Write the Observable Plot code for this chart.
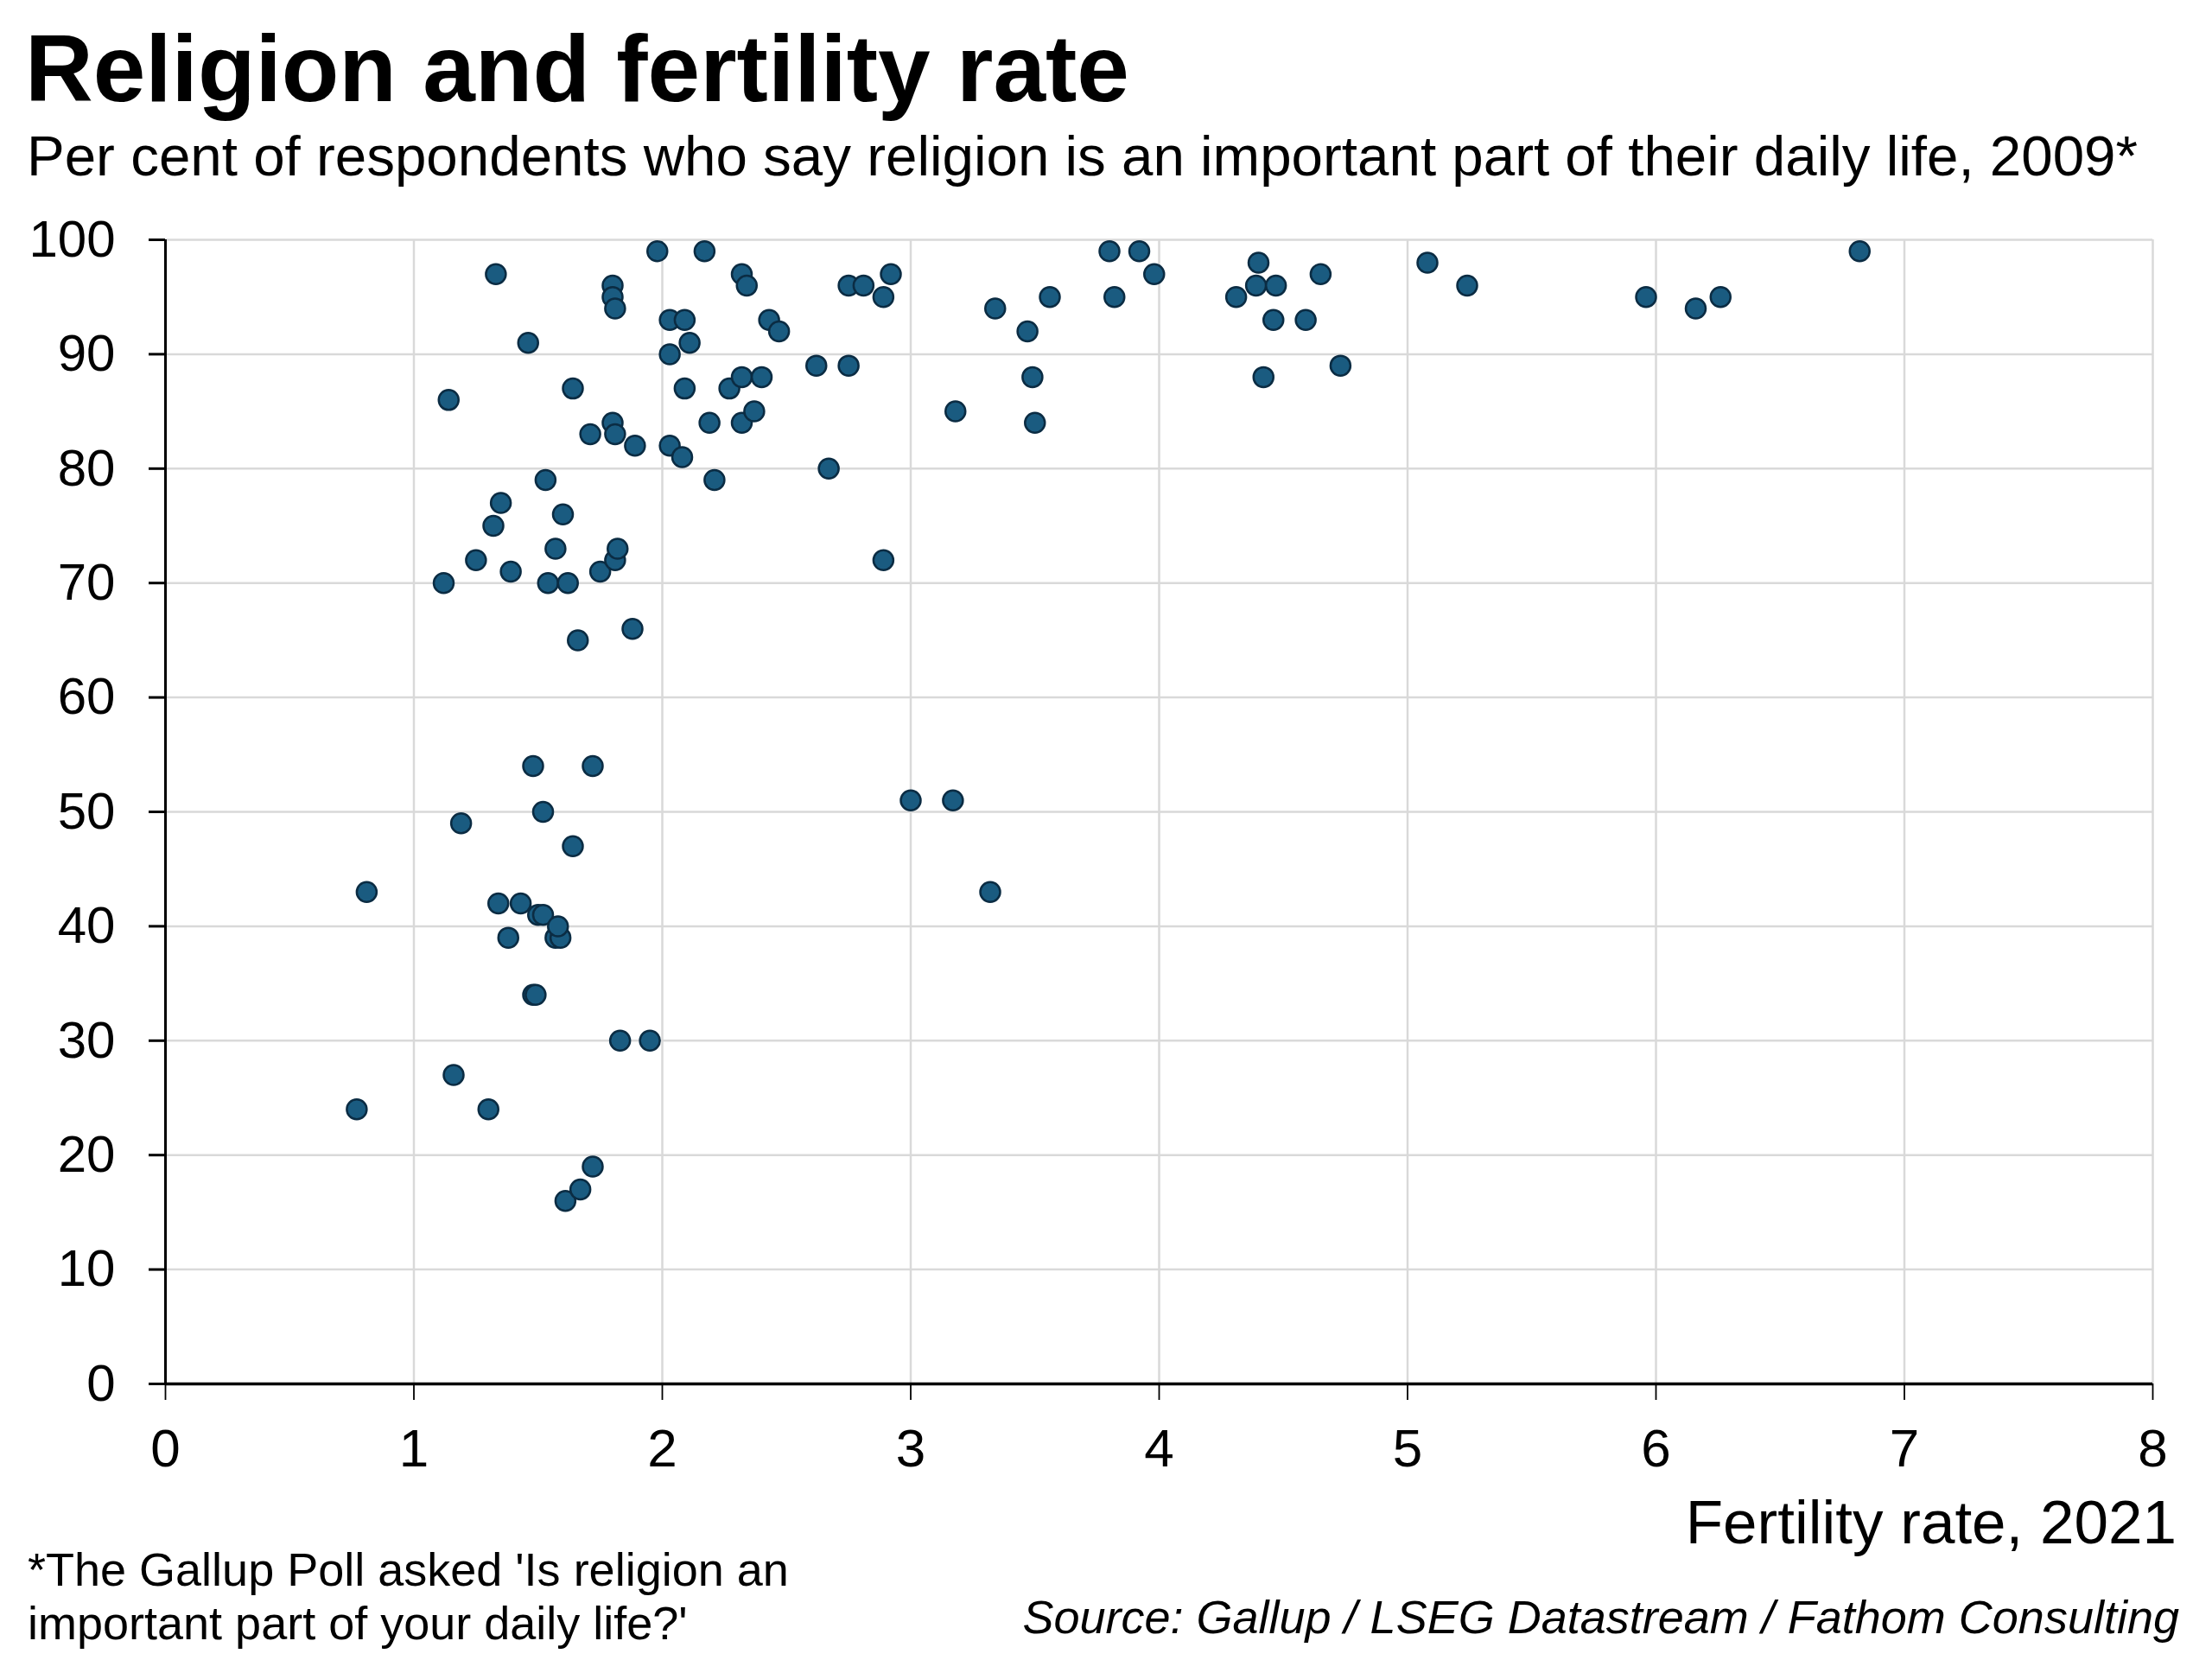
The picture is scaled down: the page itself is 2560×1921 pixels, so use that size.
<!DOCTYPE html>
<html>
<head>
<meta charset="utf-8">
<script src="https://cdn.jsdelivr.net/npm/d3@7"></script>
<script src="https://cdn.jsdelivr.net/npm/@observablehq/plot@0.6"></script>
<style>
  html, body { margin: 0; padding: 0; background: #fff; }
  #wrap { position: relative; width: 2560px; height: 1921px; font-family: "Liberation Sans", Arial, sans-serif; color: #000; }
  .t { position: absolute; white-space: nowrap; line-height: 1; }
  #title { left: 29px; top: 25px; font-size: 109px; font-weight: bold; }
  #subtitle { left: 31px; top: 148px; font-size: 65.5px; }
  #xlabel { right: 41px; top: 1726px; font-size: 71px; }
  #foot { position: absolute; left: 32px; top: 1785px; font-size: 54px; line-height: 62px; }
  #source { right: 38px; top: 1844px; font-size: 54px; font-style: italic; }
  #chart { position: absolute; left: 0; top: 230px; }
</style>
</head>
<body>
<div id="wrap">
  <div class="t" id="title">Religion and fertility rate</div>
  <div class="t" id="subtitle">Per cent of respondents who say religion is an important part of their daily life, 2009*</div>
  <div id="chart"></div>
  <div class="t" id="xlabel">Fertility rate, 2021</div>
  <div id="foot">*The Gallup Poll asked 'Is religion an<br>important part of your daily life?'</div>
  <div class="t" id="source">Source: Gallup / LSEG Datastream / Fathom Consulting</div>
</div>
<script>
// Fertility rate, 2021 (x) and % saying religion is important (y)
const fertility = [0.77, 0.81, 1.12, 1.14, 1.16, 1.19, 1.25, 1.30, 1.32, 1.33,
  1.34, 1.35, 1.39, 1.38, 1.43, 1.46, 1.48, 1.48, 1.49, 1.50,
  1.52, 1.52, 1.53, 1.54, 1.57, 1.57, 1.59, 1.58, 1.60, 1.61,
  1.62, 1.64, 1.64, 1.66, 1.67, 1.71, 1.72, 1.72, 1.75, 1.80,
  1.80, 1.81, 1.80, 1.81, 1.81, 1.82, 1.83, 1.88, 1.89, 1.95,
  1.98, 2.03, 2.03, 2.03, 2.08, 2.09, 2.09, 2.11, 2.17, 2.19,
  2.21, 2.27, 2.32, 2.34, 2.32, 2.32, 2.37, 2.40, 2.43, 2.47,
  2.62, 2.67, 2.75, 2.81, 2.75, 2.89, 2.92, 2.89, 3.00, 3.17,
  3.18, 3.32, 3.34, 3.47, 3.49, 3.50, 3.56, 3.80, 3.82, 3.92,
  3.98, 4.31, 4.39, 4.40, 4.42, 4.46, 4.47, 4.59, 4.65, 4.73,
  5.08, 5.24, 5.96, 6.16, 6.26, 6.82];
const religion = [24, 43, 70, 86, 27, 49, 72, 24, 75, 97,
  42, 77, 71, 39, 42, 91, 54, 34, 34, 41,
  41, 50, 79, 70, 73, 39, 39, 40, 76, 16,
  70, 87, 47, 65, 17, 83, 54, 19, 71, 96,
  95, 94, 84, 83, 72, 73, 30, 66, 82, 30,
  99, 93, 90, 82, 81, 93, 87, 91, 99, 84,
  79, 87, 97, 96, 88, 84, 85, 88, 93, 92,
  89, 80, 96, 96, 89, 95, 97, 72, 51, 51,
  85, 43, 94, 92, 88, 84, 95, 99, 95, 99,
  97, 95, 96, 98, 88, 93, 96, 93, 97, 89,
  98, 96, 95, 94, 95, 99];
const xTicks = [0, 1, 2, 3, 4, 5, 6, 7, 8];
const yTicks = [0, 10, 20, 30, 40, 50, 60, 70, 80, 90, 100];

const points = fertility.map((f, i) => ({fertility: f, religion: religion[i]}));

const chart = Plot.plot({
  width: 2560,
  height: 1480,
  marginTop: 47,
  marginBottom: 109,
  marginLeft: 191,
  marginRight: 69,
  style: {fontFamily: "'Liberation Sans', Arial, sans-serif", fontSize: "60px", color: "#000", background: "transparent", overflow: "visible"},
  x: {domain: [0, 8], label: null},
  y: {domain: [0, 100], label: null},
  marks: [
    Plot.gridX(xTicks, {stroke: "#d9d9d9", strokeOpacity: 1, strokeWidth: 2.5}),
    Plot.gridY(yTicks, {stroke: "#d9d9d9", strokeOpacity: 1, strokeWidth: 2.5}),
    Plot.axisY(yTicks, {tickSize: 19, tickPadding: 39, strokeWidth: 3, fontSize: 60, fill: "#000", label: null, tickFormat: "d"}),
    Plot.axisX(xTicks, {tickSize: 19, tickPadding: 32, strokeWidth: 1.8, fontSize: 62, fill: "#000", label: null, tickFormat: "d"}),
    Plot.ruleX([0], {stroke: "#000", strokeWidth: 3}),
    Plot.ruleY([0], {stroke: "#000", strokeWidth: 3.5}),
    Plot.dot(points, {x: "fertility", y: "religion", r: 11.5, fill: "#1a5b80", stroke: "#0b2c43", strokeWidth: 2.5})
  ]
});
document.getElementById("chart").appendChild(chart);
</script>
</body>
</html>
